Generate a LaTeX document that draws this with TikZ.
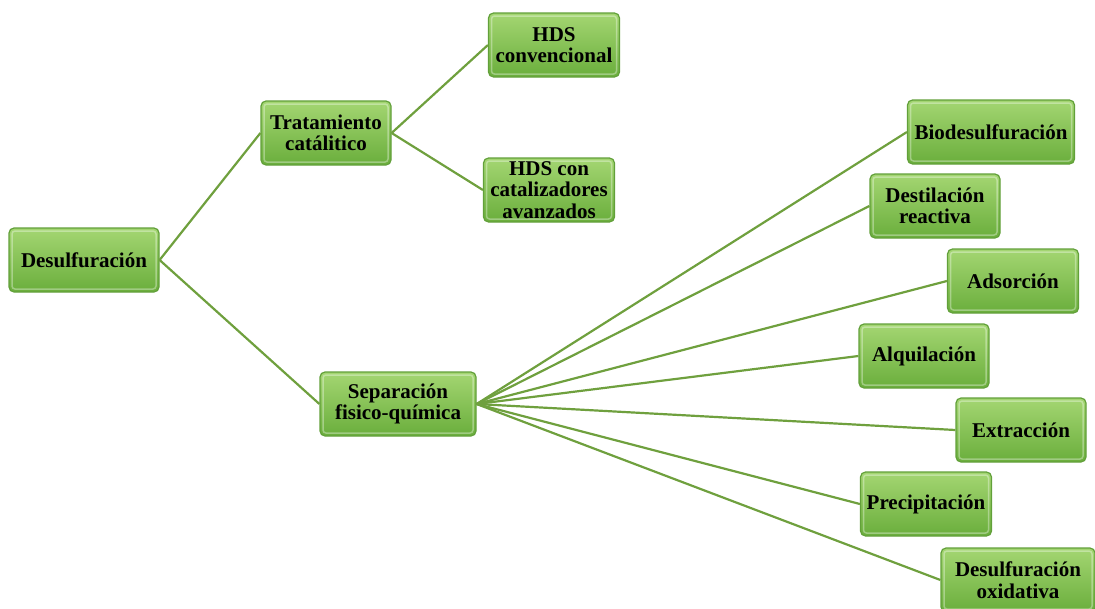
\documentclass[tikz,border=0pt]{standalone}
\usepackage{fontspec}
\setmainfont{Liberation Serif}
\definecolor{boxtop}{HTML}{A4D672}
\definecolor{boxmid}{HTML}{80C34C}
\definecolor{boxbot}{HTML}{6AAE3C}
\definecolor{boxedge}{HTML}{62A03A}
\definecolor{linkgreen}{HTML}{6FA03E}
\begin{document}
\begin{tikzpicture}[x=1pt,y=-1pt,
  box/.style={rectangle, rounded corners=5pt, draw=boxedge, line width=1.2pt,
    top color=boxtop, middle color=boxmid, bottom color=boxbot,
    minimum height=64pt, inner sep=2pt, align=center, text=black,
    font=\fontsize{21}{21.5}\selectfont\bfseries,
    path picture={
      \draw[white, opacity=0.35, line width=1.5pt, rounded corners=3pt]
        ([shift={(3pt,3pt)}]path picture bounding box.south west) rectangle
        ([shift={(-3pt,-3pt)}]path picture bounding box.north east);}},
  link/.style={draw=linkgreen, line width=2.2pt}]
\useasboundingbox (0,0) rectangle (1095,608);

% boxes of the tree
\node[box, minimum width=150pt] (root) at (84,260) {Desulfuración};
\node[box, minimum width=130pt] (trat) at (326,133) {Tratamiento\\catálitico};
\node[box, minimum width=131pt] (hdsc) at (554,45) {HDS\\convencional};
\node[box, minimum width=131pt] (hdsa) at (549,190) {HDS con\\catalizadores\\avanzados};
\node[box, minimum width=156pt] (sep) at (398,404) {Separación\\fisico-química};
\node[box, minimum width=167pt] (bio) at (991,132) {Biodesulfuración};
\node[box, minimum width=130pt] (dest) at (935,206) {Destilación\\reactiva};
\node[box, minimum width=131pt] (ads) at (1013,281) {Adsorción};
\node[box, minimum width=130pt] (alq) at (924,356) {Alquilación};
\node[box, minimum width=130pt] (ext) at (1021,430) {Extracción};
\node[box, minimum width=131pt] (prec) at (926,504) {Precipitación};
\node[box, minimum width=154pt] (oxi) at (1018,580) {Desulfuración\\oxidativa};

% branches from each parent's right side to its children
\draw[link] (root.east) -- (trat.west);
\draw[link] (root.east) -- (sep.west);
\draw[link] (trat.east) -- (hdsc.west);
\draw[link] (trat.east) -- (hdsa.west);
\foreach \n in {bio,dest,ads,alq,ext,prec,oxi}
  \draw[link] (sep.east) -- (\n.west);
\end{tikzpicture}
\end{document}
